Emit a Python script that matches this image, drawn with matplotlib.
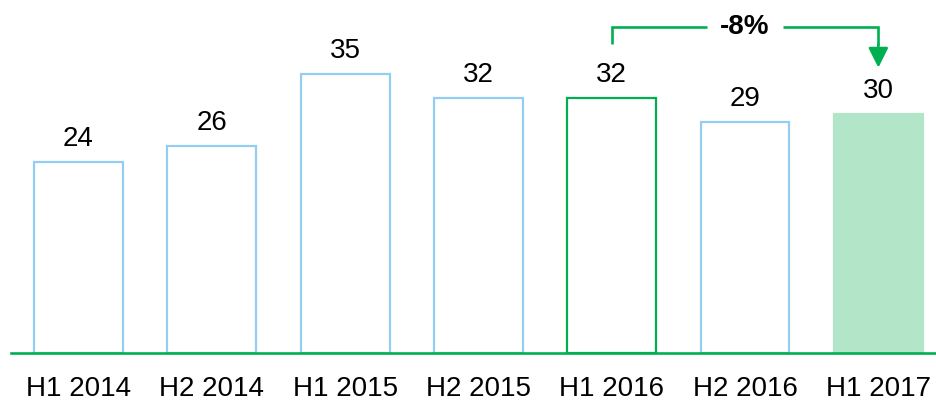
import matplotlib
matplotlib.use("Agg")
import matplotlib.pyplot as plt

plt.rcParams['font.family'] = ['Liberation Sans', 'DejaVu Sans']

categories = ["H1 2014", "H2 2014", "H1 2015", "H2 2015", "H1 2016", "H2 2016", "H1 2017"]
values = [24, 26, 35, 32, 32, 29, 30]
change_label = "-8%"

GREEN = "#00B050"
BLUE = "#93CEF0"
LIGHT_GREEN = "#B3E6C9"

W, H = 937, 403
fig = plt.figure(figsize=(W / 100, H / 100), dpi=100)
base_px = 353
ax = fig.add_axes([11 / W, (H - base_px) / H, 1 - 11 / W, base_px / H])

px_per_unit = 7.97
ax.set_xlim(-0.506, 6.44)
ax.set_ylim(0, base_px / px_per_unit)

x = list(range(len(categories)))
faces = ["white"] * 6 + [LIGHT_GREEN]
edges = [BLUE, BLUE, BLUE, BLUE, GREEN, BLUE, LIGHT_GREEN]
ax.bar(x, values, width=0.667, color=faces, edgecolor=edges, linewidth=1.6, zorder=1)

for xi, v in zip(x, values):
    ax.annotate(str(v), xy=(xi, v), xytext=(0, 11.5), textcoords="offset points",
                ha="center", va="baseline", fontsize=20, color="black")

# spines / ticks
for s in ["top", "right", "left"]:
    ax.spines[s].set_visible(False)
ax.spines["bottom"].set_color(GREEN)
ax.spines["bottom"].set_linewidth(1.9)
ax.set_yticks([])
ax.set_xticks(x)
ax.set_xticklabels(categories, fontsize=20)
ax.tick_params(axis="x", length=0, pad=16.5)

# change bracket
i0, i1 = 4, 6
ytop = 40.9
ystart = values[i0] + 6.8
yarrow_base = 38.6
ytip = values[i1] + 5.8
gap = 0.285
xmid = (i0 + i1) / 2
ax.plot([i0, i0, xmid - gap], [ystart, ytop, ytop], color=GREEN, lw=1.9,
        solid_joinstyle="miter", solid_capstyle="butt", clip_on=False)
ax.plot([xmid + gap, i1, i1], [ytop, ytop, yarrow_base], color=GREEN, lw=1.9,
        solid_joinstyle="miter", solid_capstyle="butt", clip_on=False)
ax.annotate("", xy=(i1, ytip), xytext=(i1, yarrow_base + 0.1),
            arrowprops=dict(arrowstyle="-|>,head_length=0.8,head_width=0.4",
                            mutation_scale=15, color=GREEN, lw=1.9,
                            shrinkA=0, shrinkB=0), annotation_clip=False)
ax.text(xmid, ytop, change_label, ha="center", va="center", fontsize=20,
        fontweight="bold", color="black")

fig.savefig("out.png", dpi=100)
